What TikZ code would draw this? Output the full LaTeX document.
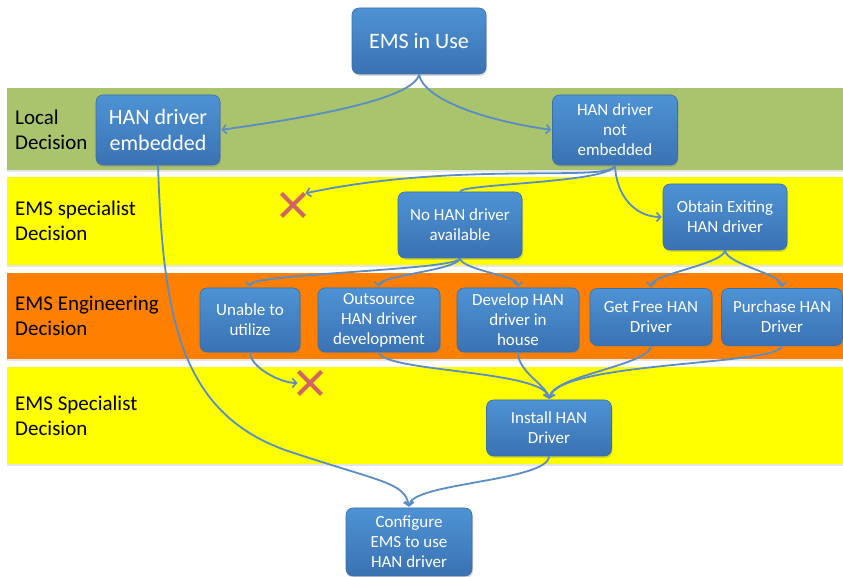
\documentclass[tikz,border=0pt]{standalone}
\usepackage{fontspec}
\setmainfont{Carlito}
\usepackage{tikz}
\usetikzlibrary{arrows.meta,positioning,shapes.misc,shadows}
\definecolor{boxtop}{HTML}{4E93D4}
\definecolor{boxbot}{HTML}{3A72B3}
\definecolor{boxbd}{HTML}{3B6DA6}
\definecolor{flow}{HTML}{5A8CC5}
\definecolor{bandgreen}{HTML}{A9C46C}
\definecolor{bandyellow}{HTML}{FFFF00}
\definecolor{bandorange}{HTML}{FF7F00}
\definecolor{crossred}{HTML}{D46464}
\tikzset{
  stepbox/.style={draw=boxbd,top color=boxtop,bottom color=boxbot,
                  rounded corners=7pt,line width=0.6pt,text=white,
                  align=center,inner sep=2pt,
                  font=\fontsize{17}{20}\selectfont,
                  minimum width=124pt,minimum height=66pt,
                  drop shadow={opacity=0.3,shadow xshift=1pt,shadow yshift=-2pt}},
  band/.style={fill=#1,drop shadow={opacity=0.2,shadow xshift=0pt,shadow yshift=-2pt}},
  lane/.style={anchor=west,align=left,text=black,inner sep=0pt,
               font=\fontsize{21}{25}\selectfont},
  xmark/.style={cross out,draw=crossred,line width=4pt,
                minimum size=19pt,inner sep=0pt},
  flowline/.style={draw=flow,line width=1.8pt},
  flowarrow/.style={flowline,-{Straight Barb[length=4pt,width=9pt,line width=1.6pt]},
                    shorten >=1pt},
}

\begin{document}
\begin{tikzpicture}[x=1pt,y=1pt]
  \useasboundingbox (0,0) rectangle (843,577);
  % decision bands
  \fill[band=bandgreen]  (7,407) rectangle (843,489);
  \fill[band=bandyellow] (7,312) rectangle (843,400);
  \fill[band=bandorange] (7,218) rectangle (843,304);
  \fill[band=bandyellow] (7,113) rectangle (843,210);
  \node[lane] (lloc) at (15,447) {Local\\Decision};
  \node[lane] (lspec) at (15,356) {EMS specialist\\Decision};
  \node[lane] (leng) at (15,261) {EMS Engineering\\Decision};
  \node[lane] (lspec2) at (15,161) {EMS Specialist\\Decision};
  % boxes
  \node[stepbox,minimum width=134pt,font=\fontsize{22}{26}\selectfont]
    (use) at (419,536) {EMS in Use};
  \node[stepbox,minimum height=70pt,font=\fontsize{22}{26}\selectfont]
    (embed) at (158,447) {HAN driver\\embedded};
  \node[stepbox,minimum width=125pt,minimum height=70pt]
    (notemb) at (615,447) {HAN driver\\not\\embedded};
  \node[stepbox] (nodrv) at (460,352) {No HAN driver\\available};
  \node[stepbox] (obtain) at (725,360) {Obtain Exiting\\HAN driver};
  \node[stepbox,minimum width=100pt,minimum height=64pt]
    (unable) at (250,257) {Unable to\\utilize};
  \node[stepbox,minimum width=122pt,minimum height=64pt]
    (outsrc) at (379,257) {Outsource\\HAN driver\\development};
  \node[stepbox,minimum width=122pt,minimum height=64pt]
    (devel) at (518,257) {Develop HAN\\driver in\\house};
  \node[stepbox,minimum width=122pt,minimum height=57pt]
    (free) at (651,260) {Get Free HAN\\Driver};
  \node[stepbox,minimum width=121pt,minimum height=57pt]
    (purch) at (782,260) {Purchase HAN\\Driver};
  \node[stepbox,minimum width=125pt,minimum height=56pt]
    (install) at (549,149) {Install HAN\\Driver};
  \node[stepbox,minimum width=126pt,minimum height=68pt]
    (config) at (409,35) {Configure\\EMS to use\\HAN driver};
  \node[xmark] (xno) at (293,372) {};
  \node[xmark] (xunable) at (310,194) {};
  % connectors
  \draw[flowarrow] (use.south) to[out=-100,in=8,out distance=25pt,in distance=90pt] (embed.east);
  \draw[flowarrow] (use.south) to[out=-80,in=172,out distance=25pt,in distance=70pt] (notemb.west);
  \draw[flowarrow] (notemb.south) to[out=-100,in=12,out distance=18pt,in distance=160pt] (xno.north east);
  \draw[flowline] (notemb.south) to[out=-100,in=90,out distance=18pt,in distance=8pt] (nodrv.north);
  \draw[flowarrow] (notemb.south) to[out=-88,in=180,out distance=30pt,in distance=28pt] (obtain.west);
  \draw[flowarrow] (embed.south) .. controls (163,260) and (180,165) .. (285,127)
    .. controls (380,95) and (405,95) .. (config.north);
  \draw[flowarrow] (nodrv.south) to[out=-100,in=90,out distance=12pt,in distance=14pt] (unable.north);
  \draw[flowarrow] (nodrv.south) to[out=-100,in=90,out distance=12pt,in distance=12pt] (outsrc.north);
  \draw[flowarrow] (nodrv.south) to[out=-80,in=90,out distance=12pt,in distance=12pt] (devel.north);
  \draw[flowarrow] (obtain.south) to[out=-95,in=90,out distance=14pt,in distance=14pt] (free.north);
  \draw[flowarrow] (obtain.south) to[out=-85,in=90,out distance=14pt,in distance=14pt] (purch.north);
  \draw[flowarrow] (unable.south) to[out=-90,in=180,out distance=15pt,in distance=18pt] (xunable.west);
  \draw[flowarrow] (outsrc.south) to[out=-80,in=100,out distance=20pt,in distance=30pt] (install.north);
  \draw[flowarrow] (devel.south) to[out=-90,in=100,out distance=20pt,in distance=15pt] (install.north);
  \draw[flowarrow] (free.south) to[out=-95,in=80,out distance=20pt,in distance=25pt] (install.north);
  \draw[flowarrow] (purch.south) to[out=-95,in=75,out distance=20pt,in distance=40pt] (install.north);
  \draw[flowarrow] (install.south) to[out=-92,in=85,out distance=25pt,in distance=25pt] (config.north);
\end{tikzpicture}
\end{document}
